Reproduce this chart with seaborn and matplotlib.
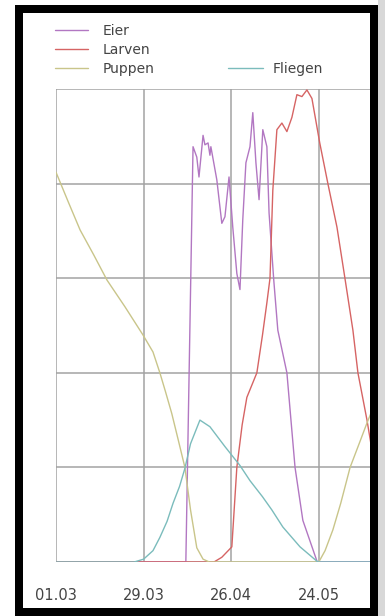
import pandas as pd
import matplotlib

matplotlib.use('Agg')
import matplotlib.pyplot as plt
import seaborn as sns
from matplotlib.patches import Rectangle
from matplotlib.lines import Line2D

sns.set_theme(style="white")
plt.rcParams['font.family'] = ['DejaVu Sans']

# Tage ab 01.03
tick_tage = [0, 28, 56, 84]
tick_labels = ['01.03', '29.03', '26.04', '24.05']

eier_tag = [0, 41.5, 43.8, 45.0, 45.7, 47.0, 47.6, 48.6, 49.2, 49.5, 51.4, 53.0, 54.0, 55.3,
            56.5, 57.8, 58.8, 59.7, 60.7, 62.0, 62.9, 63.9, 64.9, 66.1, 67.4, 68.1, 69.6,
            70.9, 73.8, 76.4, 78.9, 83.5, 101]
eier_wert = [0, 0, 4.39, 4.28, 4.07, 4.51, 4.41, 4.43, 4.30, 4.39, 4.04, 3.58, 3.65, 4.07,
             3.54, 3.05, 2.88, 3.62, 4.22, 4.39, 4.75, 4.22, 3.83, 4.57, 4.39, 3.69, 2.98,
             2.45, 2.0, 1.0, 0.44, 0, 0]

larven_tag = [0, 50.5, 53, 56.2, 57.8, 59.5, 61.0, 64.2, 66, 67.4, 68.4, 69.3, 70.6, 72.2,
              73.8, 75.4, 77.0, 78.6, 80.2, 81.8, 84.3, 86.9, 89.8, 92.3, 94.9, 96.5, 99.4, 101]
larven_wert = [0, 0, 0.05, 0.16, 1.0, 1.45, 1.74, 2.0, 2.4, 2.74, 3.0, 3.93, 4.57, 4.64,
               4.55, 4.7, 4.94, 4.92, 4.99, 4.9, 4.43, 4.0, 3.54, 3.01, 2.45, 2.0, 1.5, 1.18]

puppen_tag = [0, 4, 7.7, 12, 16.3, 22, 27.8, 31, 33.2, 35, 37, 39, 41.2, 43, 45, 47, 49,
              84, 86, 88.5, 91, 94, 97, 99.4, 101]
puppen_wert = [4.12, 3.80, 3.51, 3.25, 2.98, 2.70, 2.40, 2.22, 2.0, 1.80, 1.57, 1.30, 1.0,
               0.55, 0.15, 0.03, 0, 0, 0.12, 0.34, 0.62, 1.0, 1.26, 1.47, 1.6]

fliegen_tag = [0, 25, 28, 31, 33.2, 35.5, 37.4, 39.5, 41.2, 43, 46, 49.2, 54, 58.8, 62,
               66, 69, 72.5, 78, 83.7, 101]
fliegen_wert = [0, 0, 0.03, 0.12, 0.26, 0.43, 0.62, 0.80, 0.99, 1.25, 1.5, 1.43, 1.22,
                1.02, 0.86, 0.69, 0.55, 0.37, 0.16, 0, 0]

serien = ['Eier', 'Larven', 'Puppen', 'Fliegen']
farben = {'Eier': '#b277c2', 'Larven': '#d66464', 'Puppen': '#c9c58a', 'Fliegen': '#7bbcbc'}

frames = []
for name, t, w in [('Eier', eier_tag, eier_wert), ('Larven', larven_tag, larven_wert),
                   ('Puppen', puppen_tag, puppen_wert), ('Fliegen', fliegen_tag, fliegen_wert)]:
    frames.append(pd.DataFrame({'Tag': t, 'Wert': w, 'Serie': name}))
df = pd.concat(frames, ignore_index=True)

fig = plt.figure(figsize=(3.85, 6.16), dpi=100)
ax = fig.add_axes([56 / 385, 54 / 616, 316 / 385, 473 / 616])

sns.lineplot(data=df, x='Tag', y='Wert', hue='Serie', palette=farben, hue_order=serien,
             estimator=None, sort=False, linewidth=1.0, legend=False, ax=ax, zorder=3)

ax.set_xlim(0, 101)
ax.set_ylim(0, 5)
ax.set_xticks(tick_tage)
ax.set_xticklabels(tick_labels, fontsize=10.5, color='#444444')
ax.set_yticks([0, 1, 2, 3, 4, 5])
ax.set_yticklabels([])
ax.tick_params(axis='x', length=0, pad=19)
ax.tick_params(axis='y', length=0)
ax.grid(True, color='#a3a3a3', linewidth=1.1)
ax.set_xlabel('')
ax.set_ylabel('')
for s in ax.spines.values():
    s.set_visible(False)

# Legende
h1 = [Line2D([], [], color=farben[s], linewidth=1.0) for s in serien[:3]]
fig.legend(h1, serien[:3], loc='upper left', bbox_to_anchor=(55 / 385, 1 - 24 / 616),
           frameon=False, fontsize=10, handlelength=2.4, labelspacing=0.35,
           handletextpad=1.0, borderpad=0, borderaxespad=0, labelcolor='#444444')
h2 = [Line2D([], [], color=farben['Fliegen'], linewidth=1.0)]
fig.legend(h2, ['Fliegen'], loc='upper left', bbox_to_anchor=(228 / 385, 1 - 62 / 616),
           frameon=False, fontsize=10, handlelength=2.5, handletextpad=0.7, borderpad=0,
           borderaxespad=0, labelcolor='#444444')

# Rahmen
fig.patches.append(Rectangle((378 / 385, 0), 7 / 385, 1, transform=fig.transFigure,
                             facecolor='#d8d8d8', edgecolor='none', zorder=5))
for x0, y0, w, h in [(15, 0, 8, 611), (15, 0, 363, 8), (370, 0, 8, 611), (15, 603, 363, 8)]:
    fig.patches.append(Rectangle((x0 / 385, y0 / 616), w / 385, h / 616,
                                 transform=fig.transFigure, facecolor='black',
                                 edgecolor='none', zorder=10))

fig.savefig('out.png', dpi=100, facecolor='white')
